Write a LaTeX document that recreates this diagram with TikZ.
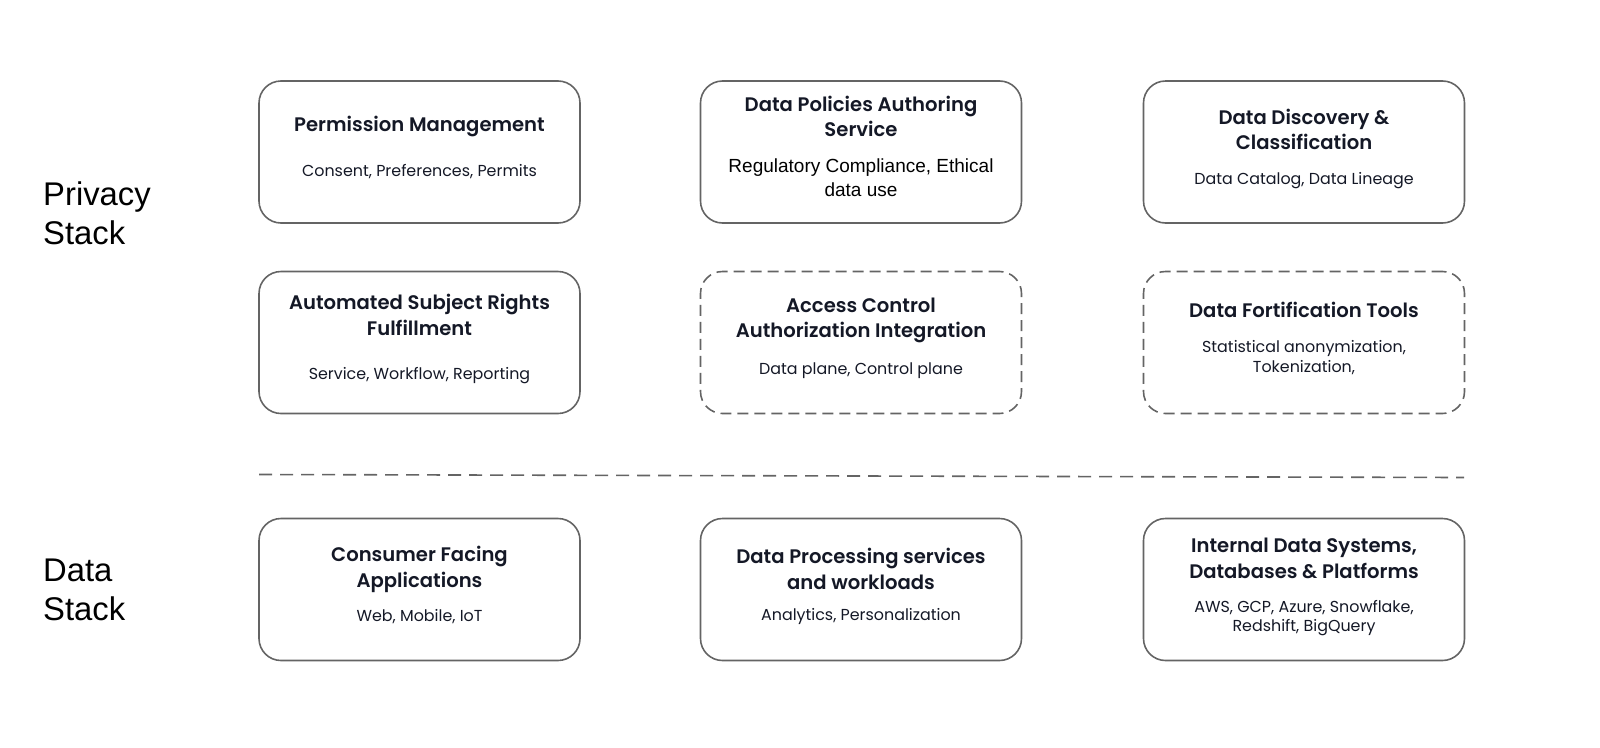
\documentclass[tikz,border=0pt]{standalone}
\usepackage{fontspec}
\setmainfont{Poppins}
\newfontfamily\headfont{Poppins SemiBold}
\newfontfamily\arialfont{Liberation Sans}
\definecolor{ink}{RGB}{20,24,38}
\definecolor{edge}{RGB}{100,100,100}

\begin{document}
\begin{tikzpicture}[x=1pt, y=-1pt,
		card/.style={draw=edge, line width=1.6pt, rounded corners=22pt, minimum width=321pt, minimum height=142pt, inner sep=0pt},
		plancard/.style={card, dash pattern=on 11pt off 6pt},
		head/.style={font=\headfont\fontsize{19.6}{25.8}\selectfont, text=ink, align=center, inner sep=0pt},
		sub/.style={font=\fontsize{15.9}{19.5}\selectfont, text=ink, align=center, inner sep=0pt},
		subarial/.style={font=\arialfont\fontsize{19}{23.5}\selectfont, text=black, align=center, inner sep=0pt},
		stack/.style={font=\arialfont\fontsize{32.8}{39}\selectfont, text=black, align=left, anchor=west, inner sep=0pt}]
		\useasboundingbox (0,0) rectangle (1600,747);
		% stack labels
		\node[stack] (privacy) at (43,213.5) {Privacy\\Stack};
		\node[stack] (datastack) at (43,589.5) {Data\\Stack};
		% privacy stack, first row
		\node[card] (pm) at (419.5,152) {};
		\node[head] (pmhead) at (419.5,126) {Permission Management};
		\node[sub] (pmsub) at (419.5,172) {Consent, Preferences, Permits};
		\node[card] (dpas) at (861,152) {};
		\node[head] (dpashead) at (861,116.5) {Data Policies Authoring\\Service};
		\node[subarial] (dpassub) at (861,177.5) {Regulatory Compliance, Ethical\\data use};
		\node[card] (ddc) at (1304,152) {};
		\node[head] (ddchead) at (1304,129.5) {Data Discovery \&\\Classification};
		\node[sub] (ddcsub) at (1304,181) {Data Catalog, Data Lineage};
		% privacy stack, second row
		\node[card] (asrf) at (419.5,342.5) {};
		\node[head] (asrfhead) at (419.5,315) {Automated Subject Rights\\Fulfillment};
		\node[sub] (asrfsub) at (419.5,376) {Service, Workflow, Reporting};
		\node[plancard] (acai) at (861,342.5) {};
		\node[head] (acaihead) at (861,320.5) {Access Control\\Authorization Integration};
		\node[sub] (acaisub) at (861,370.5) {Data plane, Control plane};
		\node[plancard] (dft) at (1304,342.5) {};
		\node[head] (dfthead) at (1304,310) {Data Fortification Tools};
		\node[sub] (dftsub) at (1304,357.5) {Statistical anonymization,\\Tokenization,};
		% separator
		\coordinate (sepleft) at (259,474.5);
		\coordinate (sepright) at (1464,477.5);
		\draw[edge, line width=1.6pt, dash pattern=on 13pt off 8pt] (sepleft) -- (sepright);
		% data stack
		\node[card] (cfa) at (419.5,589.5) {};
		\node[head] (cfahead) at (419.5,569.5) {Consumer Facing\\Applications};
		\node[sub] (cfasub) at (419.5,616.5) {Web, Mobile, IoT};
		\node[card] (dpsw) at (861,589.5) {};
		\node[head] (dpswhead) at (861,568.5) {Data Processing services\\and workloads};
		\node[sub] (dpswsub) at (861,616.5) {Analytics, Personalization};
		\node[card] (ids) at (1304,589.5) {};
		\node[head] (idshead) at (1304,558) {Internal Data Systems,\\Databases \& Platforms};
		\node[sub] (idssub) at (1304,618) {AWS, GCP, Azure, Snowflake,\\Redshift, BigQuery};
	\end{tikzpicture}
\end{document}
